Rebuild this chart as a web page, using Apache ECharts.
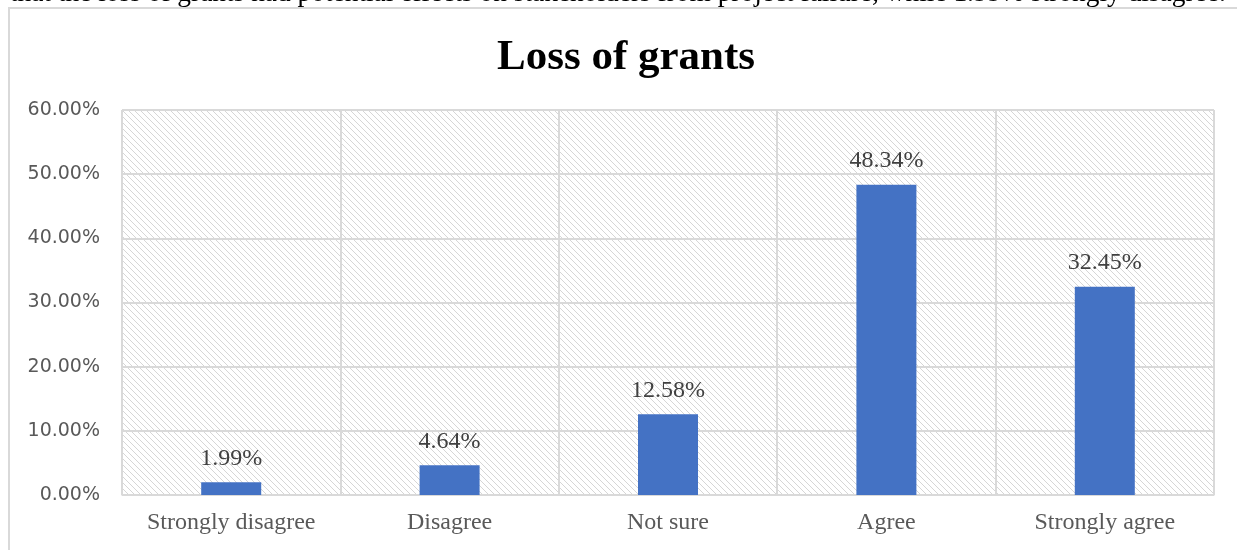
<!DOCTYPE html>
<html>
<head>
<meta charset="utf-8">
<script src="https://cdn.jsdelivr.net/npm/echarts@6/dist/echarts.min.js"></script>
<style>
html,body{margin:0;padding:0;background:#fff;}
#chart{width:1237px;height:550px;}
</style>
</head>
<body>
<div id="chart"></div>
<script>
const categories = ['Strongly disagree', 'Disagree', 'Not sure', 'Agree', 'Strongly agree'];
const values = [1.99, 4.64, 12.58, 48.34, 32.45];
const titleText = 'Loss of grants';
const captionText = 'that the loss of grants had potential effects on stakeholders from project failure, while 1.99% strongly disagree.';

const pc = document.createElement('canvas');
pc.width = 6; pc.height = 6;
const ctx = pc.getContext('2d');
ctx.fillStyle = '#ffffff';
ctx.fillRect(0, 0, 6, 6);
ctx.strokeStyle = '#d6d6d6';
ctx.lineWidth = 1;
ctx.beginPath();
ctx.moveTo(-1, -1); ctx.lineTo(7, 7);
ctx.moveTo(-1, 5); ctx.lineTo(1, 7);
ctx.moveTo(5, -1); ctx.lineTo(7, 1);
ctx.stroke();

const serif = '"Liberation Serif", "Times New Roman", serif';
const chart = echarts.init(document.getElementById('chart'));
chart.setOption({
  animation: false,
  graphic: [
    {type: 'rect', shape: {x: 9, y: 8, width: 1240, height: 560}, style: {fill: 'none', stroke: '#d9d9d9', lineWidth: 2}, z: -10},
    {type: 'text', x: 10, y: 7, style: {text: captionText, font: '27.4px ' + serif, fill: '#000', verticalAlign: 'bottom', lineHeight: 27}}
  ],
  title: {
    text: titleText,
    left: 492,
    top: 31,
    textStyle: {fontFamily: serif, fontWeight: 'bold', fontSize: 43, color: '#000'}
  },
  grid: {
    left: 122, right: 23, top: 110, bottom: 55,
    show: true,
    backgroundColor: {image: pc, repeat: 'repeat'},
    borderColor: '#d9d9d9',
    borderWidth: 1
  },
  xAxis: {
    type: 'category',
    data: categories,
    axisLine: {show: true, lineStyle: {color: '#d9d9d9', width: 1}},
    axisTick: {show: false},
    splitLine: {show: true, interval: 0, lineStyle: {color: '#d9d9d9', width: 2}},
    axisLabel: {interval: 0, color: '#595959', fontSize: 24, fontFamily: serif, margin: 16}
  },
  yAxis: {
    type: 'value',
    min: 0, max: 60, interval: 10,
    axisLine: {show: false},
    axisTick: {show: false},
    splitLine: {show: true, lineStyle: {color: '#d9d9d9', width: 2}},
    axisLabel: {color: '#595959', fontSize: 19, fontFamily: '"DejaVu Sans", sans-serif', margin: 22,
      formatter: v => v.toFixed(2) + '%'}
  },
  series: [{
    type: 'bar',
    data: values,
    barWidth: 60,
    itemStyle: {color: '#4472C4'},
    label: {show: true, position: 'top', distance: 12, color: '#404040', fontSize: 24,
      fontFamily: serif,
      formatter: p => p.value.toFixed(2) + '%'}
  }]
});
</script>
</body>
</html>
